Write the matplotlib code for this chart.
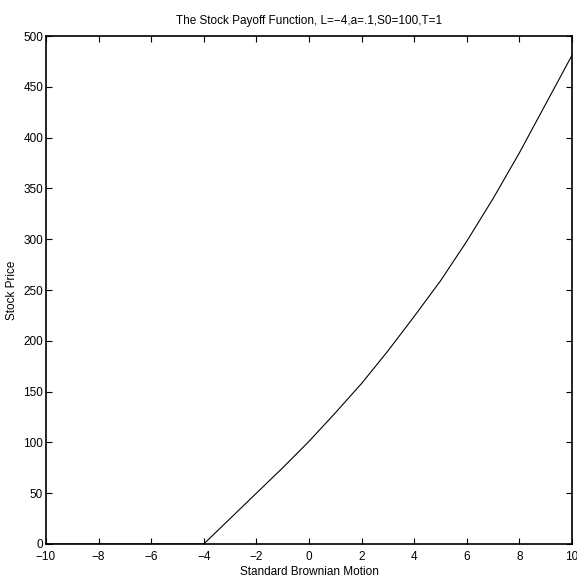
import matplotlib
matplotlib.use("Agg")
import matplotlib.pyplot as plt

# values
brownian = [-10, -4, -3, -2, -1, 0, 1, 2, 3, 4, 5, 6, 7, 8, 9, 10]
price = [0, 0, 25, 50, 75, 101, 129, 158, 190, 224, 259, 298, 340, 385, 433, 481]

x_ticks = [-10, -8, -6, -4, -2, 0, 2, 4, 6, 8, 10]
x_tick_labels = ["\u221210", "\u22128", "\u22126", "\u22124", "\u22122", "0", "2", "4", "6", "8", "10"]
y_ticks = [0, 50, 100, 150, 200, 250, 300, 350, 400, 450, 500]

plt.rcParams['font.family'] = ['Liberation Sans', 'DejaVu Sans']
plt.rcParams['font.size'] = 8.5

fig = plt.figure(figsize=(5.77, 5.81), dpi=100)
ax = fig.add_axes([0.0797, 0.0637, 0.9116, 0.8743])

ax.plot(brownian, price, color='black', linewidth=0.8)

ax.set_xlim(-10, 10)
ax.set_ylim(0, 500)
ax.set_xticks(x_ticks)
ax.set_xticklabels(x_tick_labels)
ax.set_yticks(y_ticks)
ax.tick_params(direction='in', length=4, width=0.8, top=True, right=True, pad=2)
ax.tick_params(axis='x', pad=5)

for side in ax.spines.values():
    side.set_linewidth(1.2)

ax.set_title("The Stock Payoff Function, L=\u22124,a=.1,S0=100,T=1", fontsize=8.5, pad=9)
ax.set_xlabel("Standard Brownian Motion", labelpad=2)
ax.set_ylabel("Stock Price", labelpad=4)

fig.savefig("out.png", dpi=100)
